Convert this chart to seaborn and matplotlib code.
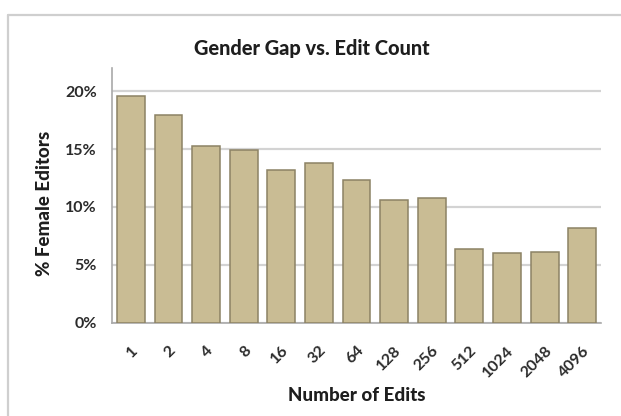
import matplotlib
matplotlib.use("Agg")
import matplotlib.pyplot as plt
import matplotlib.ticker as mticker
from matplotlib.lines import Line2D
import seaborn as sns
import pandas as pd

# Edit-count buckets and share of female editors (%) in each
edit_counts = ["1", "2", "4", "8", "16", "32", "64", "128", "256", "512", "1024", "2048", "4096"]
female_pct = [19.55, 17.9, 15.23, 14.95, 13.2, 13.77, 12.3, 10.58, 10.77, 6.33, 5.98, 6.12, 8.18]
y_ticks = [0, 5, 10, 15, 20]

df = pd.DataFrame({"edits": edit_counts, "pct": [v / 100 for v in female_pct]})

sns.set_theme(style="white")
plt.rcParams["font.family"] = ["Lato", "DejaVu Sans"]

fig = plt.figure(figsize=(6.21, 4.16), dpi=100)
ax = fig.add_axes([0.1804, 0.2243, 0.7874, 0.6122])

sns.barplot(data=df, x="edits", y="pct", order=edit_counts, color="#C9BC94",
            saturation=1, width=0.74, edgecolor="#8C8265", linewidth=1.1, ax=ax, zorder=3)

ax.set_ylim(0, 0.22)
ax.set_xlim(-0.5, len(edit_counts) - 0.5)
ax.set_yticks([t / 100 for t in y_ticks])
ax.yaxis.set_major_formatter(mticker.PercentFormatter(1.0, decimals=0))
ax.yaxis.grid(True, color="#D3D3D3", linewidth=1.6, zorder=0)
ax.set_axisbelow(True)

for side in ("top", "right"):
    ax.spines[side].set_visible(False)
for side in ("left", "bottom"):
    ax.spines[side].set_color("#A9A9A9")
    ax.spines[side].set_linewidth(1.2)

ax.tick_params(axis="y", which="major", direction="out", length=5, width=1,
               color="#A9A9A9", labelsize=11.5, labelcolor="#2B2B2B", pad=6)
ax.tick_params(axis="x", which="major", length=0, labelsize=11.5, labelcolor="#2B2B2B", pad=15)
ax.set_xticks([i + 0.5 for i in range(len(edit_counts) - 1)], minor=True)
ax.tick_params(axis="x", which="minor", direction="out", length=4, width=1, color="#A9A9A9")
for lbl in ax.get_yticklabels():
    lbl.set_fontweight("bold")
for lbl in ax.get_xticklabels():
    lbl.set_rotation(45)
    lbl.set_ha("right")
    lbl.set_rotation_mode("anchor")
    lbl.set_fontweight("bold")

ax.set_xlabel("Number of Edits", fontsize=13.5, fontweight=900, color="#1E1E1E")
ax.set_ylabel("% Female Editors", fontsize=13.5, fontweight=900, color="#1E1E1E")
ax.xaxis.set_label_coords(0.5, -0.2525)
ax.yaxis.set_label_coords(-0.1207, 0.47)

fig.text(312 / 621, 1 - 49 / 416, "Gender Gap vs. Edit Count", ha="center", va="center",
         fontsize=14.4, fontweight=900, color="#1E1E1E")

# chart-area frame
fig.add_artist(Line2D([8 / 621, 1.0], [1 - 15 / 416, 1 - 15 / 416], transform=fig.transFigure,
                      color="#CFCFCF", linewidth=1.6))
fig.add_artist(Line2D([8 / 621, 8 / 621], [0.0, 1 - 15 / 416], transform=fig.transFigure,
                      color="#CFCFCF", linewidth=1.6))

fig.savefig("out.png", dpi=100)
